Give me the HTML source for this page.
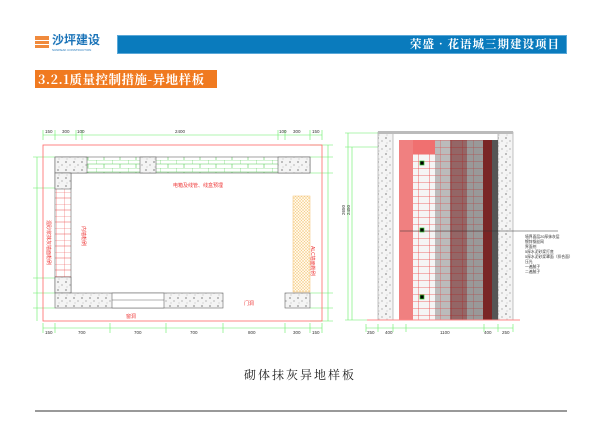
<!DOCTYPE html>
<html><head><meta charset="utf-8"><style>
body{margin:0;width:600px;height:442px;background:#fff;overflow:hidden;position:relative;font-family:"Liberation Sans","Noto Sans CJK SC",sans-serif}
.abs{position:absolute}
</style></head><body>
<div class="abs" style="left:35px;top:36px;width:14px;height:12px;background:#f08a3c"></div>
<div class="abs" style="left:35px;top:40px;width:14px;height:1px;background:#fff"></div>
<div class="abs" style="left:35px;top:44px;width:14px;height:1px;background:#fff"></div>
<div class="abs" style="left:52px;top:33px;font-size:12px;font-weight:bold;color:#1a73b8;font-family:'Noto Sans CJK SC',sans-serif;line-height:14px">沙坪建设</div>
<div class="abs" style="left:52px;top:48px;font-size:3px;color:#1a73b8;">SUNPEAK CONSTRUCTION</div>
<div class="abs" style="left:117px;top:35px;width:450px;height:19px;background:#0a7bbd;border:1px solid #5aa8d8;box-sizing:border-box"></div>
<div class="abs" style="left:400px;top:36px;width:160px;text-align:right;font-size:11.5px;color:#fff;font-family:'Noto Serif CJK SC',serif;font-weight:bold;line-height:17px;letter-spacing:1px">荣盛•花语城三期建设项目</div>
<div class="abs" style="left:35px;top:70px;width:182px;height:18px;background:#f07a20"></div>
<div class="abs" style="left:38px;top:70px;font-size:12.5px;color:#fff;font-family:'Noto Serif CJK SC',serif;font-weight:bold;line-height:18px;letter-spacing:0.5px">3.2.1质量控制措施-异地样板</div>
<div class="abs" style="left:0;top:366px;width:600px;text-align:center;font-size:12px;color:#222;font-family:'Noto Serif CJK SC',serif;letter-spacing:2px">砌体抹灰异地样板</div>
<div class="abs" style="left:35px;top:410px;width:532px;height:2px;background:#999"></div>
<svg class="abs" style="left:0;top:0" width="600" height="442">
<defs>
<pattern id="sp" width="8" height="8" patternUnits="userSpaceOnUse"><rect width="8" height="8" fill="#f4f4f4"/><circle cx="2" cy="2" r=".6" fill="#333"/><circle cx="6" cy="5" r=".5" fill="#555"/><circle cx="3" cy="7" r=".4" fill="#777"/></pattern>
<pattern id="dn" width="4" height="4" patternUnits="userSpaceOnUse"><rect width="4" height="4" fill="#ddd"/><circle cx="1" cy="1" r=".6" fill="#555"/><circle cx="3" cy="3" r=".6" fill="#777"/></pattern>
<pattern id="bk" width="16" height="8" patternUnits="userSpaceOnUse"><rect width="16" height="8" fill="#fff"/><path d="M0 0H16M0 4H16M0 0V4M8 4V8" stroke="#5c5" stroke-width=".6" fill="none"/></pattern>
<pattern id="bkr" width="8" height="12" patternUnits="userSpaceOnUse"><rect width="8" height="12" fill="#fff"/><path d="M0 0V12M0 6H8M0 0H8" stroke="#e55" stroke-width=".6" fill="none"/></pattern>
<pattern id="rb" width="11" height="7" patternUnits="userSpaceOnUse"><rect width="11" height="7" fill="#f5f5f5"/><path d="M0 0H11M0 0V7" stroke="#e44" stroke-width=".8"/></pattern>
<pattern id="gb" width="11" height="7" patternUnits="userSpaceOnUse"><rect width="11" height="7" fill="#bbb"/><path d="M0 0H11M0 0V7" stroke="#d55" stroke-width=".7"/></pattern>
<pattern id="yh" width="3" height="3" patternUnits="userSpaceOnUse"><rect width="3" height="3" fill="#fff8e8"/><path d="M0 3L3 0M0 0L3 3" stroke="#f3c070" stroke-width=".4"/></pattern>
</defs>
<!-- left plan -->
<g fill="none" stroke="#6e6" stroke-width=".6">
<path d="M43 135H322M43 130V140M55 130V140M76 130V140M82 130V140M278 130V140M285 130V140M310 130V140M322 130V140"/>
<path d="M43 328H322M43 323V333M55 323V333M110 323V333M166 323V333M223 323V333M285 323V333M310 323V333M322 323V333"/>
<path d="M37 157V321M33 157H55M33 188H55M33 278H55M33 293H55M33 308H55"/>
<path d="M328 145V321M310 145H333M310 157H333M310 173H333M310 293H333M310 308H333M310 321H333"/>
</g>
<g font-size="4.5" fill="#333"><text x="45" y="133">150</text><text x="62" y="133">300</text><text x="77" y="133">100</text><text x="175" y="133">2400</text><text x="279" y="133">100</text><text x="293" y="133">300</text><text x="312" y="133">150</text>
<text x="45" y="334">150</text><text x="78" y="334">700</text><text x="134" y="334">700</text><text x="190" y="334">700</text><text x="248" y="334">800</text><text x="293" y="334">300</text><text x="312" y="334">150</text></g>
<rect x="43" y="145" width="279" height="176" fill="none" stroke="#f66" stroke-width=".8"/>
<rect x="55" y="157" width="255" height="16" fill="url(#bk)" stroke="#666" stroke-width=".6"/>
<rect x="55" y="157" width="32" height="16" fill="url(#sp)" stroke="#666" stroke-width=".6"/>
<rect x="140" y="157" width="16" height="16" fill="url(#sp)" stroke="#666" stroke-width=".6"/>
<rect x="278" y="157" width="32" height="16" fill="url(#sp)" stroke="#666" stroke-width=".6"/>
<rect x="55" y="173" width="16" height="120" fill="url(#bkr)" stroke="#666" stroke-width=".6"/>
<rect x="55" y="173" width="16" height="16" fill="url(#sp)" stroke="#666" stroke-width=".6"/>
<rect x="55" y="277" width="16" height="16" fill="url(#sp)" stroke="#666" stroke-width=".6"/>
<rect x="55" y="293" width="168" height="15" fill="url(#sp)" stroke="#666" stroke-width=".6"/>
<rect x="112" y="293" width="52" height="15" fill="#fff" stroke="#666" stroke-width=".6"/>
<line x1="112" y1="300" x2="164" y2="300" stroke="#666" stroke-width=".5"/>
<rect x="285" y="293" width="25" height="15" fill="url(#sp)" stroke="#666" stroke-width=".6"/>
<rect x="293" y="196" width="17" height="96" fill="url(#yh)" stroke="#f3c070" stroke-width=".5"/>
<g fill="#e33" font-size="5"><text x="173" y="187">电箱及线管、线盒预埋</text><text x="244" y="305">门洞</text><text x="126" y="318">窗洞</text>
<text transform="translate(47,220) rotate(90)">混砂浆抹灰墙面粉刷</text><text transform="translate(82,226) rotate(90)">内墙粉刷</text><text transform="translate(311,246) rotate(90)">ALC墙面粉刷</text></g>
<!-- right elevation -->
<g fill="none" stroke="#6e6" stroke-width=".6">
<path d="M348 133V320M352 147V320M345 133H378M345 147H378M345 320H378"/>
<path d="M366 328H513M366 324V332M378 324V332M393 324V332M406 324V332M484 324V332M498 324V332M513 324V332"/>
</g>
<g font-size="4.5" fill="#333"><text x="367" y="334">250</text><text x="385" y="334">400</text><text x="440" y="334">1100</text><text x="484" y="334">400</text><text x="502" y="334">250</text>
<text transform="translate(345,215) rotate(-90)">2650</text><text transform="translate(350,215) rotate(-90)">2450</text></g>
<rect x="378" y="132" width="15" height="188" fill="url(#sp)" stroke="#888" stroke-width=".5"/>
<rect x="498" y="132" width="15" height="188" fill="url(#sp)" stroke="#888" stroke-width=".5"/>
<rect x="378" y="131" width="135" height="3" fill="#bbb"/>
<rect x="399" y="140" width="14" height="180" fill="#f08080"/>
<rect x="413" y="140" width="22" height="180" fill="url(#rb)"/>
<rect x="413" y="140" width="22" height="14" fill="#f07070"/>
<rect x="435" y="140" width="15" height="180" fill="url(#gb)"/>
<rect x="450" y="140" width="17" height="180" fill="url(#gb)"/><rect x="450" y="140" width="17" height="180" fill="#600" opacity=".45"/>
<rect x="467" y="140" width="16" height="180" fill="url(#gb)"/><rect x="467" y="140" width="16" height="180" fill="#333" opacity=".25"/>
<rect x="483" y="140" width="9" height="180" fill="#7a2525"/>
<rect x="492" y="140" width="6" height="180" fill="#555"/>
<rect x="420" y="161" width="4" height="4" fill="#000" stroke="#3c3" stroke-width=".7"/>
<rect x="420" y="228" width="4" height="4" fill="#000" stroke="#3c3" stroke-width=".7"/>
<rect x="420" y="295" width="4" height="4" fill="#000" stroke="#3c3" stroke-width=".7"/>
<line x1="400" y1="231" x2="558" y2="231" stroke="#333" stroke-width=".6"/>
<line x1="367" y1="320" x2="520" y2="320" stroke="#f88" stroke-width="1"/>
<g font-size="3.8" fill="#333"><text x="525" y="238">墙界面层20厚抹灰层</text><text x="525" y="243">镀锌钢丝网</text><text x="525" y="248">界面剂</text><text x="525" y="253">5厚水泥砂浆打底</text><text x="525" y="258">5厚水泥砂浆罩面（拌合面）</text><text x="525" y="263">压光</text><text x="525" y="268">一遍腻子</text><text x="525" y="273">二遍腻子</text></g>
</svg>
</body></html>
